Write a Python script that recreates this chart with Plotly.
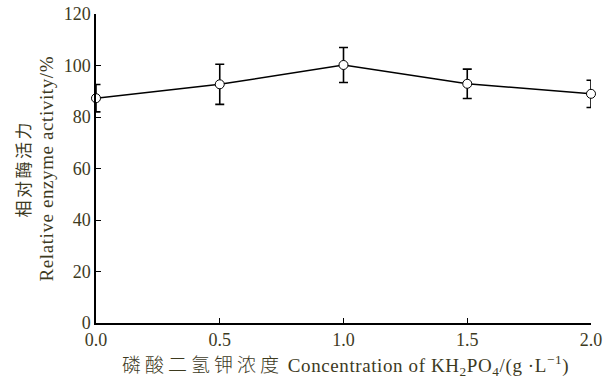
import plotly.graph_objects as go

conc = [0.0, 0.5, 1.0, 1.5, 2.0]
activity = [87.3, 92.7, 100.2, 92.9, 89.0]
err = [5.3, 7.8, 6.8, 5.7, 5.3]
y_ticks = [0, 20, 40, 60, 80, 100, 120]
x_ticks = [0.0, 0.5, 1.0, 1.5, 2.0]
x_tick_text = ["0.0", "0.5", "1.0", "1.5", "2.0"]

txt = "#3d3a1e"
font = "Liberation Serif, Times New Roman, serif"
cjk = "Noto Sans CJK SC"

fig = go.Figure()
fig.add_trace(go.Scatter(
    x=conc, y=activity, mode="lines+markers",
    line=dict(color="black", width=1.5),
    marker=dict(symbol="circle", size=9, color="white", line=dict(color="black", width=1)),
    error_y=dict(type="data", array=err, visible=True, color="black", thickness=1.6, width=4.5),
    cliponaxis=False, showlegend=False,
))

fig.update_layout(
    width=606, height=379, autosize=False,
    margin=dict(l=96, r=15, t=14, b=56, autoexpand=False),
    paper_bgcolor="white", plot_bgcolor="white",
    font=dict(family=font, size=18, color=txt),
    xaxis=dict(range=[0, 2], tickvals=x_ticks, ticktext=x_tick_text, ticks="inside", ticklen=5,
               tickwidth=1.2, tickcolor="black", showline=True, linecolor="black", linewidth=1.5,
               showgrid=False, zeroline=False, automargin=False,
               tickfont=dict(family=font, size=18, color=txt)),
    yaxis=dict(range=[0, 120], tickvals=y_ticks, ticks="inside", ticklen=5, tickwidth=1.2,
               tickcolor="black", showline=True, linecolor="black", linewidth=1.5,
               showgrid=False, zeroline=False, automargin=False,
               tickfont=dict(family=font, size=18, color=txt)),
)

fig.add_annotation(
    text="<span style='font-family:Noto Sans CJK SC;font-weight:300;letter-spacing:4px'>磷酸二氢钾浓度</span> "
         "<span style='letter-spacing:0.6px'>Concentration of KH<sub>2</sub>PO<sub>4</sub>/(g ·L<sup>−1</sup>)</span>",
    xref="paper", yref="paper", x=0.5, y=0, xshift=2, yshift=-41, xanchor="center", yanchor="middle",
    showarrow=False, font=dict(family=font, size=19, color=txt),
)
fig.add_annotation(
    text="<span style='letter-spacing:2.5px'>相对酶活力</span>", xref="paper", yref="paper", x=0, y=0.5, xshift=-74,
    textangle=-90, xanchor="center", yanchor="middle", showarrow=False,
    font=dict(family=cjk, size=17, color=txt),
)
fig.add_annotation(
    text="<span style='letter-spacing:0.6px'>Relative enzyme activity/%</span>", xref="paper", yref="paper",
    x=0, y=0.5, xshift=-50,
    textangle=-90, xanchor="center", yanchor="middle", showarrow=False,
    font=dict(family=font, size=19, color=txt),
)

fig.write_html("out.html")
